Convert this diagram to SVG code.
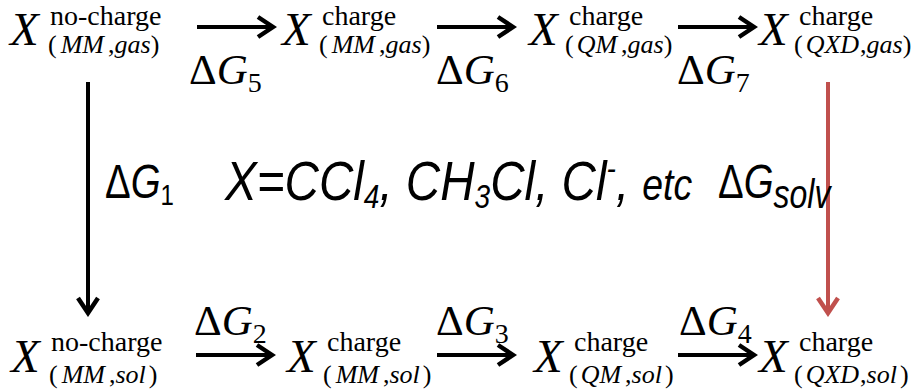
<svg xmlns="http://www.w3.org/2000/svg" width="919" height="390" viewBox="0 0 919 390">
<style>
.tm{font-family:"Liberation Serif","Times New Roman",serif;fill:#000}
.X{font-size:47px;font-style:italic}
.sup{font-size:28px}
.sub{font-size:26px}
.i{font-style:italic}
.dg{font-size:43px}
.dgs{font-size:28px}
.sn{font-family:"Liberation Sans",Arial,sans-serif;font-style:italic;fill:#000}
.ln{stroke:#000;stroke-width:4;fill:none}
.red{stroke:#c0504d;stroke-width:4;fill:none}
</style>
<defs>
<marker id="ah" markerUnits="userSpaceOnUse" viewBox="-18 -12 22 24" refX="0" refY="0" markerWidth="22" markerHeight="24" orient="auto">
<path d="M-15,-10 L0,0 L-15,10" fill="none" stroke="#000" stroke-width="4.5"/>
</marker>
<marker id="ahr" markerUnits="userSpaceOnUse" viewBox="-18 -12 22 24" refX="0" refY="0" markerWidth="22" markerHeight="24" orient="auto">
<path d="M-15,-10 L0,0 L-15,10" fill="none" stroke="#c0504d" stroke-width="4.5"/>
</marker>
</defs>

<g id="connectors">
<line class="ln" x1="197" y1="27" x2="273" y2="27" marker-end="url(#ah)"/>
<line class="ln" x1="437" y1="27" x2="513" y2="27" marker-end="url(#ah)"/>
<line class="ln" x1="678" y1="27" x2="754" y2="27" marker-end="url(#ah)"/>
<line class="ln" x1="196" y1="355" x2="272" y2="355" marker-end="url(#ah)"/>
<line class="ln" x1="437" y1="355" x2="513" y2="355" marker-end="url(#ah)"/>
<line class="ln" x1="678" y1="355" x2="754" y2="355" marker-end="url(#ah)"/>
<line class="ln" x1="88" y1="82" x2="88" y2="313" marker-end="url(#ah)"/>
<line class="red" x1="828" y1="82" x2="828" y2="313" marker-end="url(#ahr)"/>
</g>

<g id="labels" class="tm">
<text class="dg" x="189" y="84">Δ<tspan class="i">G</tspan><tspan class="dgs" dy="8">5</tspan></text>
<text class="dg" x="436" y="84">Δ<tspan class="i">G</tspan><tspan class="dgs" dy="8">6</tspan></text>
<text class="dg" x="677" y="84">Δ<tspan class="i">G</tspan><tspan class="dgs" dy="8">7</tspan></text>
<text class="dg" x="194" y="335">Δ<tspan class="i">G</tspan><tspan class="dgs" dy="8">2</tspan></text>
<text class="dg" x="436" y="335">Δ<tspan class="i">G</tspan><tspan class="dgs" dy="8">3</tspan></text>
<text class="dg" x="679" y="335">Δ<tspan class="i">G</tspan><tspan class="dgs" dy="8">4</tspan></text>
</g>

<g id="n1" class="tm" transform="translate(10,45)">
<text class="X" x="0" y="0">X</text>
<text class="sup" x="40" y="-20">no-charge</text>
<text class="sub" x="38" y="8">(<tspan class="i" dx="4">MM</tspan><tspan dx="4">,</tspan><tspan class="i">gas</tspan>)</text>
</g>
<g id="n2" class="tm" transform="translate(282,45)">
<text class="X" x="0" y="0">X</text>
<text class="sup" x="40" y="-20">charge</text>
<text class="sub" x="37" y="8">(<tspan class="i" dx="4">MM</tspan><tspan dx="4">,</tspan><tspan class="i">gas</tspan>)</text>
</g>
<g id="n3" class="tm" transform="translate(529,45)">
<text class="X" x="0" y="0">X</text>
<text class="sup" x="40" y="-20">charge</text>
<text class="sub" x="36" y="8">(<tspan class="i" dx="3">QM</tspan><tspan dx="4">,</tspan><tspan class="i">gas</tspan>)</text>
</g>
<g id="n4" class="tm" transform="translate(759,45)">
<text class="X" x="0" y="0">X</text>
<text class="sup" x="40" y="-20">charge</text>
<text class="sub" x="35" y="8">(<tspan class="i" dx="3">QXD</tspan><tspan dx="1">,</tspan><tspan class="i">gas</tspan>)</text>
</g>

<g id="n5" class="tm" transform="translate(11,372)">
<text class="X" x="0" y="0">X</text>
<text class="sup" x="40" y="-21">no-charge</text>
<text class="sub" x="38" y="11">(<tspan class="i" dx="4">MM</tspan><tspan dx="4">,</tspan><tspan class="i">sol</tspan><tspan dx="3">)</tspan></text>
</g>
<g id="n6" class="tm" transform="translate(287,372)">
<text class="X" x="0" y="0">X</text>
<text class="sup" x="40" y="-21">charge</text>
<text class="sub" x="36" y="11">(<tspan class="i" dx="4">MM</tspan><tspan dx="4">,</tspan><tspan class="i">sol</tspan><tspan dx="3">)</tspan></text>
</g>
<g id="n7" class="tm" transform="translate(534,372)">
<text class="X" x="0" y="0">X</text>
<text class="sup" x="40" y="-21">charge</text>
<text class="sub" x="35" y="11">(<tspan class="i" dx="3">QM</tspan><tspan dx="4">,</tspan><tspan class="i">sol</tspan><tspan dx="3">)</tspan></text>
</g>
<g id="n8" class="tm" transform="translate(759,372)">
<text class="X" x="0" y="0">X</text>
<text class="sup" x="40" y="-21">charge</text>
<text class="sub" x="35" y="11">(<tspan class="i" dx="3">QXD</tspan><tspan dx="1">,</tspan><tspan class="i">sol</tspan><tspan dx="3">)</tspan></text>
</g>

<g id="middle" class="sn">
<text transform="translate(105,198) scale(0.8,1)" font-size="48"><tspan font-style="normal">Δ</tspan>G<tspan font-size="30" font-style="normal" dy="7">1</tspan></text>
<text transform="translate(225,200) scale(0.85,1)" font-size="56">X=CCl<tspan font-size="33" dy="8">4</tspan><tspan dy="-8">, CH</tspan><tspan font-size="33" dy="8">3</tspan><tspan dy="-8">Cl, Cl</tspan><tspan font-size="33" dy="-20">-</tspan><tspan dy="20">, </tspan><tspan font-size="44">etc</tspan></text>
<text transform="translate(718,198) scale(0.8,1)" font-size="48"><tspan font-style="normal">Δ</tspan>G<tspan font-size="40" dy="10">solv</tspan></text>
</g>
</svg>
